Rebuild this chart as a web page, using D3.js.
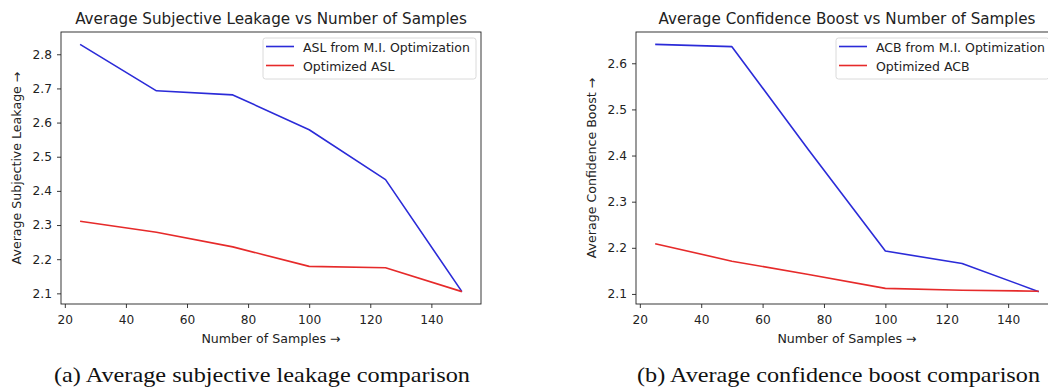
<!DOCTYPE html>
<html>
<head>
<meta charset="utf-8">
<script src="https://cdn.jsdelivr.net/npm/d3@7"></script>
<style>
  body { margin: 0; background: #fff; }
  svg text { font-family: "DejaVu Sans", sans-serif; fill: #222; }
  .caption { font-family: "Liberation Serif", "Times New Roman", serif; fill: #111; }
</style>
</head>
<body>
<svg id="chart" width="1048" height="388"></svg>
<script>
// data
const samples = [25, 50, 75, 100, 125, 150];
const aslFromMI = [2.829, 2.693, 2.681, 2.579, 2.433, 2.105];
const aslOptimized = [2.311, 2.279, 2.236, 2.179, 2.175, 2.105];
const acbFromMI = [2.641, 2.636, 2.412, 2.193, 2.166, 2.105];
const acbOptimized = [2.209, 2.171, 2.142, 2.112, 2.108, 2.106];
const xTicks = [20, 40, 60, 80, 100, 120, 140];
const aslTicks = [2.1, 2.2, 2.3, 2.4, 2.5, 2.6, 2.7, 2.8];
const acbTicks = [2.1, 2.2, 2.3, 2.4, 2.5, 2.6];

const BLUE = '#2b2bd8';
const RED = '#e62a2a';

const svg = d3.select('#chart');

function drawPanel(opt) {
  const g = svg.append('g');
  const w = opt.right - opt.left;
  const h = opt.bottom - opt.top;

  // matplotlib-style 5% margins
  const xMin = d3.min(samples), xMax = d3.max(samples);
  const xPad = (xMax - xMin) * 0.05;
  const all = opt.series.flatMap((s) => s.values);
  const yMin = d3.min(all), yMax = d3.max(all);
  const yPad = (yMax - yMin) * 0.05;

  const x = d3.scaleLinear().domain([xMin - xPad, xMax + xPad]).range([opt.left, opt.right]);
  const y = d3.scaleLinear().domain([yMin - yPad, yMax + yPad]).range([opt.bottom, opt.top]);

  // axes
  const ax = g.append('g')
    .attr('transform', `translate(0,${opt.bottom})`)
    .call(d3.axisBottom(x).tickValues(xTicks).tickSize(4).tickPadding(7).tickFormat(d3.format('d')));
  const ay = g.append('g')
    .attr('transform', `translate(${opt.left},0)`)
    .call(d3.axisLeft(y).tickValues(opt.yTicks).tickSize(4).tickPadding(5).tickFormat(d3.format('.1f')));
  [ax, ay].forEach((a) => {
    a.select('.domain').remove();
    a.selectAll('line').attr('stroke', '#222').attr('stroke-width', 0.9);
    a.selectAll('text').attr('font-size', 12.2).attr('font-family', '"DejaVu Sans", sans-serif').attr('fill', '#222');
  });

  // lines
  const line = d3.line().x((d, i) => x(samples[i])).y((d) => y(d));
  opt.series.forEach((s) => {
    g.append('path')
      .datum(s.values)
      .attr('d', line)
      .attr('fill', 'none')
      .attr('stroke', s.color)
      .attr('stroke-width', 1.6)
      .attr('stroke-linejoin', 'round');
  });

  // frame
  g.append('rect')
    .attr('x', opt.left).attr('y', opt.top)
    .attr('width', w).attr('height', h)
    .attr('fill', 'none').attr('stroke', '#222').attr('stroke-width', 0.9);

  // title
  g.append('text')
    .attr('x', (opt.left + opt.right) / 2).attr('y', 24)
    .attr('text-anchor', 'middle').attr('font-size', 15.2)
    .text(opt.title);

  // axis labels
  g.append('text')
    .attr('x', (opt.left + opt.right) / 2).attr('y', 343)
    .attr('text-anchor', 'middle').attr('font-size', 12.6)
    .text('Number of Samples \u2192');
  g.append('text')
    .attr('transform', `translate(${opt.left - 40},${(opt.top + opt.bottom) / 2}) rotate(-90)`)
    .attr('text-anchor', 'middle').attr('font-size', 12.6)
    .text(opt.yLabel);

  // legend
  const lg = g.append('g').attr('transform', `translate(${opt.legendX},38)`);
  lg.append('rect')
    .attr('width', opt.legendW).attr('height', 41).attr('rx', 2.5)
    .attr('fill', '#fff').attr('fill-opacity', 0.8)
    .attr('stroke', '#d0d0d0').attr('stroke-width', 0.8);
  opt.series.forEach((s, i) => {
    const yy = 8.5 + i * 19;
    lg.append('line')
      .attr('x1', 3).attr('x2', 31).attr('y1', yy).attr('y2', yy)
      .attr('stroke', s.color).attr('stroke-width', 1.6);
    lg.append('text')
      .attr('x', 40).attr('y', yy + 5).attr('font-size', 12.5)
      .text(s.name);
  });

  // caption
  svg.append('text')
    .attr('class', 'caption')
    .attr('x', opt.captionX).attr('y', 382)
    .attr('text-anchor', 'middle').attr('font-size', 21)
    .attr('textLength', opt.captionW).attr('lengthAdjust', 'spacingAndGlyphs')
    .text(opt.caption);
}

drawPanel({
  left: 61, right: 481, top: 32, bottom: 304,
  title: 'Average Subjective Leakage vs Number of Samples',
  yLabel: 'Average Subjective Leakage \u2192',
  yTicks: aslTicks,
  legendX: 263, legendW: 213,
  series: [
    { name: 'ASL from M.I. Optimization', values: aslFromMI, color: BLUE },
    { name: 'Optimized ASL', values: aslOptimized, color: RED },
  ],
  caption: '(a) Average subjective leakage comparison',
  captionX: 262, captionW: 416,
});

drawPanel({
  left: 636, right: 1058, top: 32, bottom: 304,
  title: 'Average Confidence Boost vs Number of Samples',
  yLabel: 'Average Confidence Boost \u2192',
  yTicks: acbTicks,
  legendX: 836, legendW: 213,
  series: [
    { name: 'ACB from M.I. Optimization', values: acbFromMI, color: BLUE },
    { name: 'Optimized ACB', values: acbOptimized, color: RED },
  ],
  caption: '(b) Average confidence boost comparison',
  captionX: 838.5, captionW: 403,
});
</script>
</body>
</html>
